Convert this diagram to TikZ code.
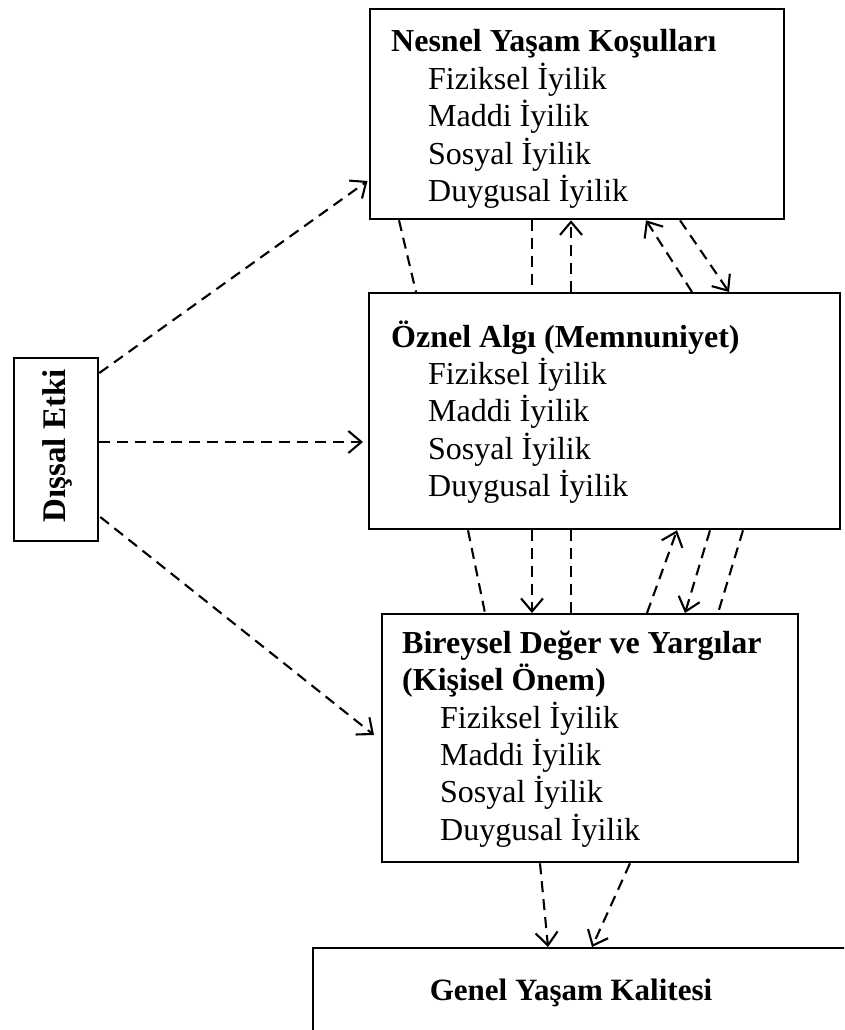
\documentclass[tikz,border=0pt]{standalone}
\usepackage{fontspec}
\setmainfont{Liberation Serif}
\usetikzlibrary{arrows.meta,calc}
\newcommand{\ind}{\hspace*{37pt}}
\begin{document}
\begin{tikzpicture}[x=1pt,y=-1pt,
  box/.style={draw,line width=2.3pt,rectangle,inner sep=0pt,anchor=north west},
  txt/.style={anchor=base west,inner sep=0pt,font=\fontsize{32}{36.7}\selectfont},
  dl/.style={line width=2.1pt,dash pattern=on 11pt off 7pt},
  da/.style={dl,-{Straight Barb[length=13pt,width=22pt,line width=2.1pt]}}]
\useasboundingbox (0,0) rectangle (844,1030);
\clip (0,0) rectangle (844,1030);
% boxes
\node[box,minimum width=414.5pt,minimum height=210pt] (n1) at (368.5,8) {};
\node[box,minimum width=471pt,minimum height=236pt] (n2) at (368,292) {};
\node[box,minimum width=416pt,minimum height=248pt] (n3) at (381,613) {};
\node[box,minimum width=600pt,minimum height=200pt] (n4) at (312,947) {};
\node[box,minimum width=84pt,minimum height=183pt] (n0) at (13,357) {};
% texts
\node[txt] (t1) at (391,52) {\begin{tabular}[t]{@{}l@{}}\textbf{Nesnel Yaşam Koşulları}\\
 \ind Fiziksel İyilik\\ \ind Maddi İyilik\\ \ind Sosyal İyilik\\ \ind Duygusal İyilik\end{tabular}};
\node[txt] (t2) at (391,347) {\begin{tabular}[t]{@{}l@{}}\textbf{Öznel Algı (Memnuniyet)}\\
 \ind Fiziksel İyilik\\ \ind Maddi İyilik\\ \ind Sosyal İyilik\\ \ind Duygusal İyilik\end{tabular}};
\node[txt] (t3) at (402,653) {\begin{tabular}[t]{@{}l@{}}\textbf{Bireysel Değer ve Yargılar}\\ \textbf{(Kişisel Önem)}\\
 \hspace*{38pt}Fiziksel İyilik\\ \hspace*{38pt}Maddi İyilik\\ \hspace*{38pt}Sosyal İyilik\\ \hspace*{38pt}Duygusal İyilik\end{tabular}};
\node[anchor=base,inner sep=0pt,font=\fontsize{31}{36.7}\selectfont\bfseries] (t4) at (571,1000) {Genel Yaşam Kalitesi};
\node[rotate=90,inner sep=0pt,font=\fontsize{33}{36.7}\selectfont\bfseries] (t0) at (57,446) {Dışsal Etki};
% external arrows
\draw[da] ($(n0.north east)+(0,16)$) -- ($(n1.north west)+(-1,173)$);
\draw[da] ($(n0.north east)+(0,85)$) -- ($(n2.north west)+(-5,150)$);
\draw[da] ($(n0.north east)+(1,160)$) -- ($(n3.north west)+(-7,122)$);
% box1 - box2
\draw[dl] ($(n1.south west)+(30.5,0)$) -- ($(n2.north west)+(48,0)$);
\draw[dl] ($(n1.south west)+(163.5,0)$) -- ($(n2.north west)+(164,0)$);
\draw[da] ($(n2.north west)+(203,0)$) -- ($(n1.south west)+(202.5,0)$);
\draw[da] ($(n2.north west)+(324,0)$) -- ($(n1.south west)+(277.5,0)$);
\draw[da] ($(n1.south west)+(311.5,0)$) -- ($(n2.north west)+(361,0)$);
% box2 - box3
\draw[dl] ($(n2.south west)+(100,0)$) -- ($(n3.north west)+(104,0)$);
\draw[da] ($(n2.south west)+(164,0)$) -- ($(n3.north west)+(151,0)$);
\draw[dl] ($(n2.south west)+(203,0)$) -- ($(n3.north west)+(190,0)$);
\draw[da] ($(n3.north west)+(266,0)$) -- ($(n2.south west)+(309,0)$);
\draw[da] ($(n2.south west)+(342,0)$) -- ($(n3.north west)+(304,0)$);
\draw[dl] ($(n2.south west)+(375,0)$) -- ($(n3.north west)+(337,0)$);
% box3 - box4
\draw[da] ($(n3.south west)+(159,0)$) -- ($(n4.north west)+(236,0)$);
\draw[da] ($(n3.south west)+(249,0)$) -- ($(n4.north west)+(280,0)$);
\end{tikzpicture}
\end{document}
